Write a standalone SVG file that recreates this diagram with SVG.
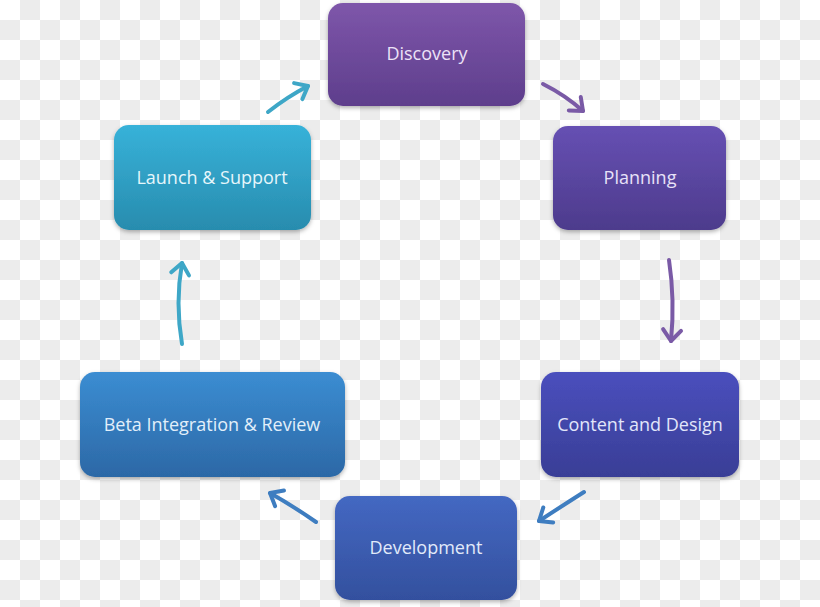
<svg xmlns="http://www.w3.org/2000/svg" width="820" height="607" viewBox="0 0 820 607">
<defs>
<pattern id="chk" width="40" height="40" patternUnits="userSpaceOnUse">
<rect width="40" height="40" fill="#ffffff"/>
<rect x="20" y="0" width="20" height="20" fill="#ececec"/>
<rect x="0" y="20" width="20" height="20" fill="#ececec"/>
</pattern>
<filter id="sh" x="-10%" y="-10%" width="120%" height="130%">
<feDropShadow dx="0" dy="2" stdDeviation="2" flood-color="#000" flood-opacity="0.3"/>
</filter>
<linearGradient id="g1" x1="0" y1="0" x2="0" y2="1"><stop offset="0" stop-color="#7e56aa"/><stop offset="1" stop-color="#5e3e8c"/></linearGradient>
<linearGradient id="g2" x1="0" y1="0" x2="0" y2="1"><stop offset="0" stop-color="#6650b3"/><stop offset="1" stop-color="#4d3b8c"/></linearGradient>
<linearGradient id="g3" x1="0" y1="0" x2="0" y2="1"><stop offset="0" stop-color="#4a4fbd"/><stop offset="1" stop-color="#393e96"/></linearGradient>
<linearGradient id="g4" x1="0" y1="0" x2="0" y2="1"><stop offset="0" stop-color="#4468c2"/><stop offset="1" stop-color="#33509e"/></linearGradient>
<linearGradient id="g5" x1="0" y1="0" x2="0" y2="1"><stop offset="0" stop-color="#3b8dd2"/><stop offset="1" stop-color="#2c68a6"/></linearGradient>
<linearGradient id="g6" x1="0" y1="0" x2="0" y2="1"><stop offset="0" stop-color="#37b2d9"/><stop offset="1" stop-color="#288cae"/></linearGradient>
<marker id="mP" markerUnits="userSpaceOnUse" markerWidth="30" markerHeight="30" viewBox="-15 -15 30 30" refX="0" refY="0" orient="auto">
<path d="M-11,-9 L0,0 L-11,9" fill="none" stroke="#7a5aa6" stroke-width="4" stroke-linecap="round" stroke-linejoin="round"/>
</marker>
<marker id="mB" markerUnits="userSpaceOnUse" markerWidth="30" markerHeight="30" viewBox="-15 -15 30 30" refX="0" refY="0" orient="auto">
<path d="M-11,-9 L0,0 L-11,9" fill="none" stroke="#3e7dc0" stroke-width="4" stroke-linecap="round" stroke-linejoin="round"/>
</marker>
<marker id="mT" markerUnits="userSpaceOnUse" markerWidth="30" markerHeight="30" viewBox="-15 -15 30 30" refX="0" refY="0" orient="auto">
<path d="M-11,-9 L0,0 L-11,9" fill="none" stroke="#3ea7c7" stroke-width="4" stroke-linecap="round" stroke-linejoin="round"/>
</marker>
</defs>
<style>
.box{filter:url(#sh)}
.lbl{font-family:"Open Sans","Liberation Sans",Arial,sans-serif;font-size:18px;text-anchor:middle;dominant-baseline:central}
.conn{fill:none;stroke-width:4;stroke-linecap:round}
</style>
<rect width="820" height="607" fill="url(#chk)"/>

<g id="connectors">
<path class="conn" d="M543,84 Q565,95 583,111" stroke="#7a5aa6" marker-end="url(#mP)"/>
<path class="conn" d="M669,260 Q675,300 671,341" stroke="#7a5aa6" marker-end="url(#mP)"/>
<path class="conn" d="M584,492 Q562,506 539,521" stroke="#3e7dc0" marker-end="url(#mB)"/>
<path class="conn" d="M316,522 Q293,506 270,493" stroke="#3e7dc0" marker-end="url(#mB)"/>
<path class="conn" d="M182,344 Q175,303 182,263" stroke="#3ea7c7" marker-end="url(#mT)"/>
<path class="conn" d="M268,112 Q287,97 308,86" stroke="#3ea7c7" marker-end="url(#mT)"/>
</g>

<g id="discovery">
<rect class="box" x="328" y="3" width="197" height="103" rx="15" fill="url(#g1)"/>
<text class="lbl" x="427" y="53" fill="#ece2f7">Discovery</text>
</g>
<g id="planning">
<rect class="box" x="553" y="126" width="173" height="104" rx="15" fill="url(#g2)"/>
<text class="lbl" x="640" y="177" fill="#e8e2f8">Planning</text>
</g>
<g id="content-design">
<rect class="box" x="541" y="372" width="198" height="105" rx="15" fill="url(#g3)"/>
<text class="lbl" x="640" y="424" fill="#e2e6fa">Content and Design</text>
</g>
<g id="development">
<rect class="box" x="335" y="496" width="182" height="104" rx="15" fill="url(#g4)"/>
<text class="lbl" x="426" y="547" fill="#e2eafa">Development</text>
</g>
<g id="beta">
<rect class="box" x="80" y="372" width="265" height="105" rx="15" fill="url(#g5)"/>
<text class="lbl" x="212" y="424" fill="#e2effa">Beta Integration &amp; Review</text>
</g>
<g id="launch">
<rect class="box" x="114" y="125" width="197" height="105" rx="15" fill="url(#g6)"/>
<text class="lbl" x="212" y="177" fill="#e6f6fb">Launch &amp; Support</text>
</g>
</svg>
